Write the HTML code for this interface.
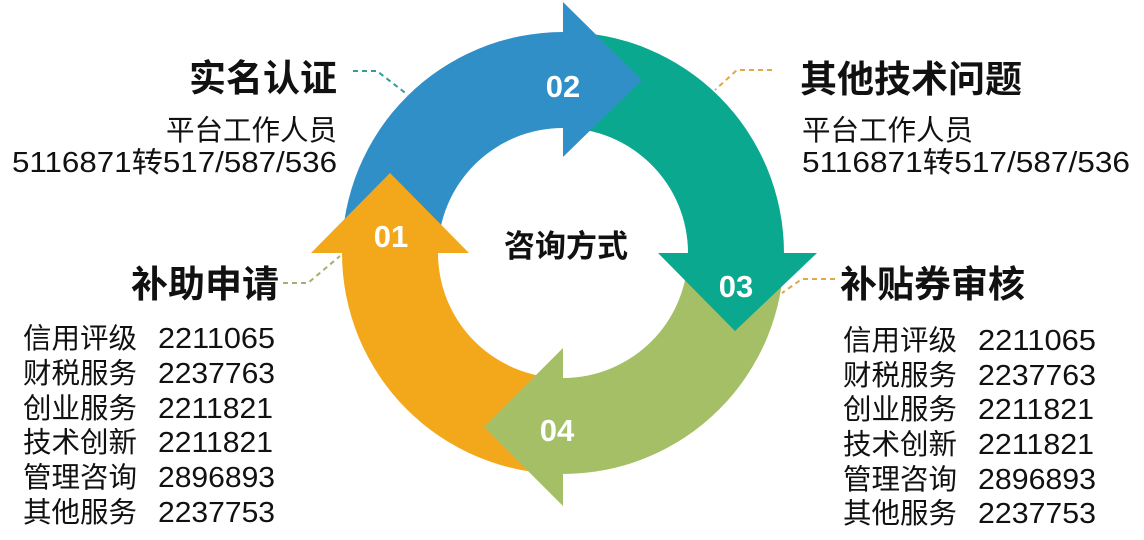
<!DOCTYPE html>
<html><head><meta charset="utf-8"><style>
html,body{margin:0;padding:0;background:#fff;}
svg{display:block;}
text{font-family:"Liberation Sans","Noto Sans CJK SC",sans-serif;}
.t{font-weight:bold;font-size:37px;fill:#111;}
.s{font-size:28.5px;fill:#111;}
.n{font-weight:bold;font-size:31px;fill:#fff;text-anchor:middle;}
</style></head><body>
<svg width="1144" height="540" viewBox="0 0 1144 540" xmlns="http://www.w3.org/2000/svg">
<rect width="1144" height="540" fill="#fff"/>
<!-- bodies -->
<path d="M342 253 A221 221 0 0 1 563 32 L563 128 A125 125 0 0 0 438 253 Z" fill="#318FC8"/>
<path d="M563 32 A221 221 0 0 1 784 253 L688 253 A125 125 0 0 0 563 128 Z" fill="#0AA98F"/>
<path d="M784 253 A221 221 0 0 1 563 474 L563 378 A125 125 0 0 0 688 253 Z" fill="#A5BF66"/>
<path d="M563 474 A221 221 0 0 1 342 253 L438 253 A125 125 0 0 0 563 378 Z" fill="#F2A81A"/>
<!-- heads -->
<polygon points="563,2 642,80 563,157" fill="#318FC8"/>
<polygon points="658,253 817,253 735,331" fill="#0AA98F"/>
<polygon points="563,348 563,506 484,427" fill="#A5BF66"/>
<polygon points="311,253 469,253 390,173" fill="#F2A81A"/>
<!-- numbers -->
<text class="n" x="563" y="97">02</text>
<text class="n" x="391" y="247">01</text>
<text class="n" x="736" y="297">03</text>
<text class="n" x="557" y="441">04</text>
<text x="566" y="257" style="font-weight:bold;font-size:31px;text-anchor:middle;fill:#111">咨询方式</text>
<!-- leaders -->
<g fill="none" stroke-width="2" stroke-dasharray="5,4">
<path d="M353 71 L377 71 L408 95" stroke="#2E9C9A"/>
<path d="M283 283 L308 283 L340 256" stroke="#A5B070"/>
<path d="M772 70 L737 70 L715 90" stroke="#E0A84A"/>
<path d="M835 279 L802 279 L782 293" stroke="#E0A84A"/>
</g>
<!-- left texts -->
<g text-anchor="end">
<text class="t" x="337" y="91">实名认证</text>
<text class="s" x="337" y="140">平台工作人员</text>
<text class="s" x="337" y="172" textLength="325" lengthAdjust="spacingAndGlyphs">5116871转517/587/536</text>
<text class="t" x="279" y="297">补助申请</text>
</g>
<text class="t" x="800" y="92">其他技术问题</text>
<text class="s" x="802" y="140">平台工作人员</text>
<text class="s" x="802" y="172" textLength="328" lengthAdjust="spacingAndGlyphs">5116871转517/587/536</text>
<text class="t" x="840" y="297">补贴券审核</text>
<!-- lists -->
<g class="s">
<text class="s" x="23" y="348">信用评级</text><text class="s" x="158" y="348" textLength="117" lengthAdjust="spacingAndGlyphs">2211065</text>
<text class="s" x="23" y="383">财税服务</text><text class="s" x="158" y="383" textLength="117" lengthAdjust="spacingAndGlyphs">2237763</text>
<text class="s" x="23" y="418">创业服务</text><text class="s" x="158" y="418" textLength="115" lengthAdjust="spacingAndGlyphs">2211821</text>
<text class="s" x="23" y="452">技术创新</text><text class="s" x="158" y="452" textLength="115" lengthAdjust="spacingAndGlyphs">2211821</text>
<text class="s" x="23" y="487">管理咨询</text><text class="s" x="158" y="487" textLength="117" lengthAdjust="spacingAndGlyphs">2896893</text>
<text class="s" x="23" y="522">其他服务</text><text class="s" x="158" y="522" textLength="117" lengthAdjust="spacingAndGlyphs">2237753</text>
<text class="s" x="843" y="350">信用评级</text><text class="s" x="978" y="350" textLength="118" lengthAdjust="spacingAndGlyphs">2211065</text>
<text class="s" x="843" y="385">财税服务</text><text class="s" x="978" y="385" textLength="118" lengthAdjust="spacingAndGlyphs">2237763</text>
<text class="s" x="843" y="419">创业服务</text><text class="s" x="978" y="419" textLength="116" lengthAdjust="spacingAndGlyphs">2211821</text>
<text class="s" x="843" y="454">技术创新</text><text class="s" x="978" y="454" textLength="116" lengthAdjust="spacingAndGlyphs">2211821</text>
<text class="s" x="843" y="489">管理咨询</text><text class="s" x="978" y="489" textLength="118" lengthAdjust="spacingAndGlyphs">2896893</text>
<text class="s" x="843" y="523">其他服务</text><text class="s" x="978" y="523" textLength="118" lengthAdjust="spacingAndGlyphs">2237753</text>
</g>
</svg>
</body></html>
